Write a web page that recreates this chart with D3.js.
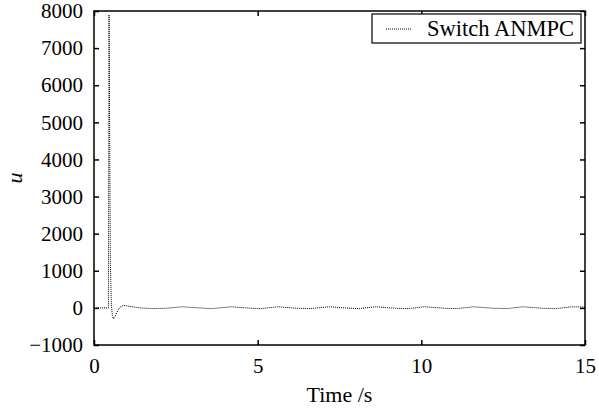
<!DOCTYPE html>
<html lang="en">
<head>
  <meta charset="UTF-8">
  <title>Switch ANMPC control input</title>
  <script src="https://d3js.org/d3.v7.min.js"></script>
  <style>
    body { margin: 0; background: #fff; }
    .line { fill: none; stroke: #000; stroke-width: 1px; stroke-dasharray: 1,1; }
  </style>
</head>
<body>
  <svg width="599" height="410"></svg>

  <script>
    // data
    const timeS = [0, 0.2, 0.4, 0.44, 0.46, 0.48, 0.5, 0.53, 0.56, 0.59, 0.65, 0.72, 0.8, 0.9,
                   1.1, 1.4, 1.8, 2.2, 2.7, 3.2, 3.6, 4.2, 4.8, 5.1, 5.6, 6.2, 6.6, 7.2, 7.8,
                   8.1, 8.6, 9.2, 9.6, 10.1, 10.7, 11.1, 11.6, 12.2, 12.6, 13.1, 13.7, 14.1, 14.6, 15];
    const uVals = [0, 0, 0, 0, 7900, 4500, 1200, 100, -200, -300, -220, -80, 20, 70,
                   40, 0, -20, -10, 30, 0, -20, 30, -10, -20, 30, -10, -20, 30, -10,
                   -20, 30, -10, -20, 30, -10, -20, 30, -10, -20, 30, -10, -20, 30, 20];
    const xTicks = [0, 5, 10, 15];
    const yTicks = [-1000, 0, 1000, 2000, 3000, 4000, 5000, 6000, 7000, 8000];
    const seriesName = "Switch ANMPC";

    const serif = "'Liberation Serif', 'Times New Roman', serif";
    const data = timeS.map((t, i) => ({t: t, u: uVals[i]}));

    const svg = d3.select("svg"),
          margin = {top: 11, right: 14, bottom: 65, left: 94},
          width = +svg.attr("width") - margin.left - margin.right,
          height = +svg.attr("height") - margin.top - margin.bottom,
          g = svg.append("g").attr("transform", `translate(${margin.left},${margin.top})`);

    const x = d3.scaleLinear().domain([0, 15]).range([0, width]);
    const y = d3.scaleLinear().domain([-1000, 8000]).range([height, 0]);

    // axes with inward ticks, mirrored on top/right
    const styleAxis = sel => {
      sel.attr("font-family", null).attr("font-size", null);
      sel.select(".domain").remove();
      sel.selectAll(".tick line").attr("stroke", "#000").attr("stroke-width", 1.5);
      sel.selectAll(".tick text")
        .style("font-family", serif)
        .style("font-size", "21px")
        .style("fill", "#000");
    };

    g.append("g")
      .attr("transform", `translate(0,${height})`)
      .call(d3.axisBottom(x).tickValues(xTicks).tickSizeInner(-5).tickPadding(13).tickFormat(d3.format("d")))
      .call(styleAxis);

    g.append("g")
      .call(d3.axisTop(x).tickValues(xTicks).tickSizeInner(-5).tickFormat(""))
      .call(styleAxis);

    g.append("g")
      .call(d3.axisLeft(y).tickValues(yTicks).tickSizeInner(-5).tickPadding(11)
        .tickFormat(d => d < 0 ? "\u2212" + Math.abs(d) : d))
      .call(styleAxis);

    g.append("g")
      .attr("transform", `translate(${width},0)`)
      .call(d3.axisRight(y).tickValues(yTicks).tickSizeInner(-5).tickFormat(""))
      .call(styleAxis);

    g.append("path")
      .datum(data)
      .attr("class", "line")
      .attr("d", d3.line().x(d => x(d.t)).y(d => y(d.u)));

    g.append("rect")
      .attr("width", width).attr("height", height)
      .attr("fill", "none").attr("stroke", "#000").attr("stroke-width", 1.5);

    // legend
    const lg = g.append("g").attr("transform", `translate(${width - 213},3)`);
    lg.append("rect").attr("width", 209).attr("height", 29)
      .attr("fill", "#fff").attr("stroke", "#000").attr("stroke-width", 1.2);
    lg.append("line").attr("x1", 14).attr("x2", 40).attr("y1", 15).attr("y2", 15)
      .attr("class", "line");
    lg.append("text").attr("x", 55).attr("y", 22)
      .style("font-family", serif).style("font-size", "22.5px").text(seriesName);

    svg.append("text")
      .attr("x", margin.left + width / 2).attr("y", 402)
      .attr("text-anchor", "middle").style("font-family", serif).style("font-size", "22px").text("Time /s");

    svg.append("text")
      .attr("transform", `translate(22,${margin.top + height / 2}) rotate(-90)`)
      .attr("text-anchor", "middle").style("font-family", serif)
      .style("font-size", "22px").style("font-style", "italic").text("u");
  </script>
</body>
</html>
